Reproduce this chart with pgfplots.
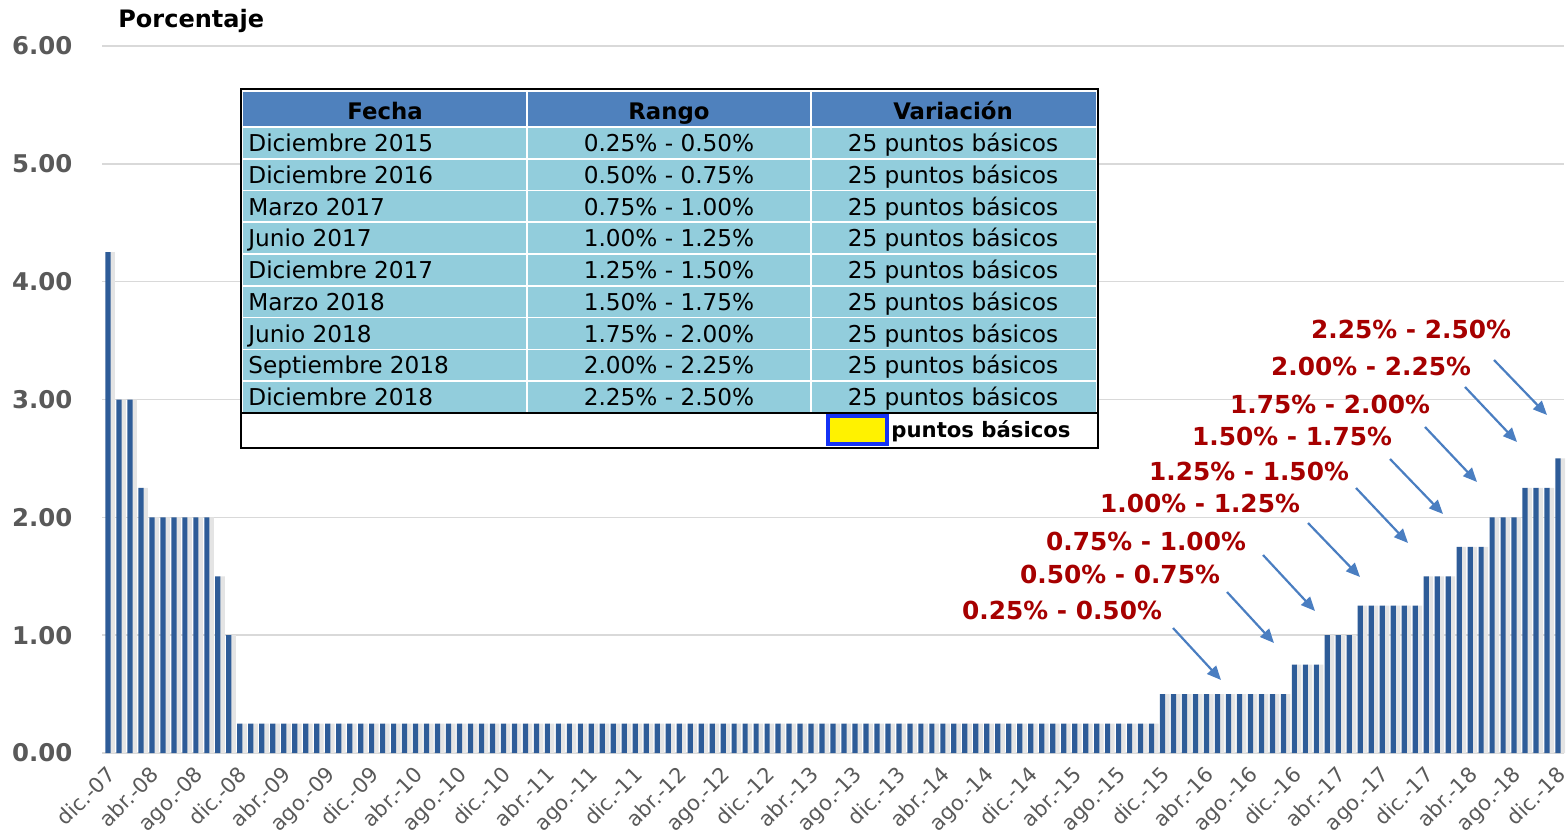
\documentclass[border=0pt]{standalone}
\usepackage{pgfplots}
\pgfplotsset{compat=1.18}
\usetikzlibrary{arrows.meta}
\usepackage{fontspec}
\setmainfont{DejaVu Sans}
\definecolor{barblue}{RGB}{46,92,152}
\definecolor{shadowgray}{RGB}{228,228,228}
\definecolor{hdrblue}{RGB}{79,129,189}
\definecolor{cellblue}{RGB}{146,205,220}
\definecolor{arrowblue}{RGB}{74,126,193}
\definecolor{darkred}{RGB}{166,0,0}
\definecolor{tickgray}{RGB}{89,89,89}
\definecolor{gridgray}{RGB}{217,217,217}
\definecolor{boxblue}{RGB}{20,50,245}
\pgfplotstableread{
x y
0 4.25
1 3.00
2 3.00
3 2.25
4 2.00
5 2.00
6 2.00
7 2.00
8 2.00
9 2.00
10 1.50
11 1.00
12 0.25
13 0.25
14 0.25
15 0.25
16 0.25
17 0.25
18 0.25
19 0.25
20 0.25
21 0.25
22 0.25
23 0.25
24 0.25
25 0.25
26 0.25
27 0.25
28 0.25
29 0.25
30 0.25
31 0.25
32 0.25
33 0.25
34 0.25
35 0.25
36 0.25
37 0.25
38 0.25
39 0.25
40 0.25
41 0.25
42 0.25
43 0.25
44 0.25
45 0.25
46 0.25
47 0.25
48 0.25
49 0.25
50 0.25
51 0.25
52 0.25
53 0.25
54 0.25
55 0.25
56 0.25
57 0.25
58 0.25
59 0.25
60 0.25
61 0.25
62 0.25
63 0.25
64 0.25
65 0.25
66 0.25
67 0.25
68 0.25
69 0.25
70 0.25
71 0.25
72 0.25
73 0.25
74 0.25
75 0.25
76 0.25
77 0.25
78 0.25
79 0.25
80 0.25
81 0.25
82 0.25
83 0.25
84 0.25
85 0.25
86 0.25
87 0.25
88 0.25
89 0.25
90 0.25
91 0.25
92 0.25
93 0.25
94 0.25
95 0.25
96 0.50
97 0.50
98 0.50
99 0.50
100 0.50
101 0.50
102 0.50
103 0.50
104 0.50
105 0.50
106 0.50
107 0.50
108 0.75
109 0.75
110 0.75
111 1.00
112 1.00
113 1.00
114 1.25
115 1.25
116 1.25
117 1.25
118 1.25
119 1.25
120 1.50
121 1.50
122 1.50
123 1.75
124 1.75
125 1.75
126 2.00
127 2.00
128 2.00
129 2.25
130 2.25
131 2.25
132 2.50
}\ratedata
\begin{document}
\begin{tikzpicture}
\path[use as bounding box] (-51.25pt,-41pt) rectangle (731.75pt,376.5pt);
\begin{axis}[
  at={(0pt,0pt)}, anchor=south west,
  scale only axis, width=730.5pt, height=353.5pt,
  xmin=-0.5, xmax=132.5, ymin=0, ymax=6,
  axis line style={draw=none}, tick style={draw=none},
  ytick={0,1,2,3,4,5,6}, ymajorgrids, grid style={gridgray, line width=0.75pt},
  /pgf/number format/assume math mode=true,
  yticklabel={\pgfmathprintnumber[fixed,fixed zerofill,precision=2]{\tick}},
  yticklabel style={font=\bfseries\fontsize{12.2}{14}\selectfont, text=tickgray, xshift=-11.5pt},
  xtick={0,4,...,132},
  xticklabels={dic.-07,abr.-08,ago.-08,dic.-08,abr.-09,ago.-09,dic.-09,abr.-10,ago.-10,dic.-10,abr.-11,ago.-11,dic.-11,abr.-12,ago.-12,dic.-12,abr.-13,ago.-13,dic.-13,abr.-14,ago.-14,dic.-14,abr.-15,ago.-15,dic.-15,abr.-16,ago.-16,dic.-16,abr.-17,ago.-17,dic.-17,abr.-18,ago.-18,dic.-18},
  xticklabel style={rotate=45, anchor=north east, font=\fontsize{10.5}{12}\selectfont, text=tickgray, inner sep=1pt, xshift=-1pt, yshift=1pt},
  ybar, bar width=2.6pt,
  clip=false,
]
\addplot[fill=shadowgray, draw=none, bar shift=2.2pt, forget plot] table[x=x,y=y] {\ratedata};
\addplot[fill=barblue, draw=none, bar shift=0pt] table[x=x,y=y] {\ratedata};
\end{axis}
\begin{scope}[x=0.5pt, y=-0.5pt, shift={(-51.25pt,376.5pt)}]
  % title
  \node[anchor=base west, inner sep=0, font=\bfseries\fontsize{12}{14}\selectfont] at (118,28) {Porcentaje};
  % table
  \fill[white] (241,89) rectangle (1098,448);
  \fill[hdrblue] (243,92) rectangle (1096,127);
  \fill[cellblue] (243,127) rectangle (1096,413);
  \foreach \yy in {127,158.8,190.6,222.3,254.1,285.9,317.7,349.4,381.2}
    \draw[white, line width=0.8pt] (243,\yy) -- (1096,\yy);
  \draw[white, line width=0.8pt] (527,92) -- (527,413);
  \draw[white, line width=0.8pt] (811,92) -- (811,413);
  \draw[black, line width=0.9pt] (241,413) -- (1098,413);
  \draw[black, line width=1.4pt] (241,89) rectangle (1098,448);
  \begin{scope}[every node/.style={inner sep=0, font=\fontsize{11.6}{13}\selectfont}]
    \node[anchor=base, font=\bfseries\fontsize{11.4}{13}\selectfont] at (385,119.5) {Fecha};
    \node[anchor=base, font=\bfseries\fontsize{11.4}{13}\selectfont] at (669,119.5) {Rango};
    \node[anchor=base, font=\bfseries\fontsize{11.4}{13}\selectfont] at (953,119.5) {Variación};
    \foreach \lab/\rng [count=\i from 0] in {Diciembre 2015/0.25\% - 0.50\%, Diciembre 2016/0.50\% - 0.75\%, Marzo 2017/0.75\% - 1.00\%, Junio 2017/1.00\% - 1.25\%, Diciembre 2017/1.25\% - 1.50\%, Marzo 2018/1.50\% - 1.75\%, Junio 2018/1.75\% - 2.00\%, Septiembre 2018/2.00\% - 2.25\%, Diciembre 2018/2.25\% - 2.50\%}{
      \pgfmathsetmacro{\by}{127+31.78*\i+24.5}
      \node[anchor=base west] at (248,\by) {\lab};
      \node[anchor=base] at (669,\by) {\rng};
      \node[anchor=base] at (953,\by) {25 puntos básicos};
    }
  \end{scope}
  \draw[boxblue, line width=1.6pt, fill=yellow] (828,416) rectangle (887,444);
  \node[anchor=base west, inner sep=0, font=\bfseries\fontsize{10.6}{12}\selectfont] at (891,438) {puntos básicos};
  % annotations
  \begin{scope}[every node/.style={inner sep=0, anchor=center, text=darkred, font=\bfseries\fontsize{12.4}{14}\selectfont}]
    \node at (1411,329) {2.25\% - 2.50\%};
    \node at (1371,366) {2.00\% - 2.25\%};
    \node at (1330,404) {1.75\% - 2.00\%};
    \node at (1292,436) {1.50\% - 1.75\%};
    \node at (1249,471) {1.25\% - 1.50\%};
    \node at (1200,503) {1.00\% - 1.25\%};
    \node at (1146,541) {0.75\% - 1.00\%};
    \node at (1120,574) {0.50\% - 0.75\%};
    \node at (1062,610) {0.25\% - 0.50\%};
  \end{scope}
  \begin{scope}[arrowblue, line width=1.1pt, -{Triangle[length=7pt,width=6pt]}]
    \draw (1494,360) -- (1547,415);
    \draw (1465,387) -- (1517,442);
    \draw (1425,427) -- (1477,482);
    \draw (1390,459) -- (1443,514);
    \draw (1356,488) -- (1408,543);
    \draw (1308,523) -- (1360,577);
    \draw (1263,555) -- (1315,611);
    \draw (1227,592) -- (1274,643);
    \draw (1173,628) -- (1221,680);
  \end{scope}
\end{scope}
\end{tikzpicture}
\end{document}
